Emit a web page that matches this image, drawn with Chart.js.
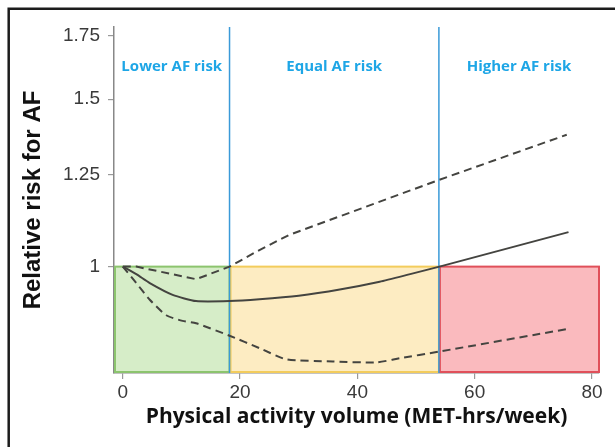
<!DOCTYPE html>
<html>
<head>
<meta charset="utf-8">
<script src="https://cdn.jsdelivr.net/npm/chart.js@4.4.1/dist/chart.umd.min.js"></script>
<style>
  html, body { margin: 0; padding: 0; background: #ffffff; }
  #wrap { width: 615px; height: 447px; position: relative; }
</style>
</head>
<body>
<div id="wrap"><canvas id="c" width="615" height="447"></canvas></div>
<script>
// ---- data ----
const xSolid  = [0, 2.3, 4.6, 8.5, 12.5, 18.2, 23.3, 30, 37, 43.8, 49, 54, 76];
const rrSolid = [1, 0.982, 0.961, 0.934, 0.920, 0.920, 0.924, 0.932, 0.946, 0.964, 0.982, 1.0, 1.087];

const xUpper  = [0, 2.3, 12.5, 18.2, 23.3, 28.4, 54, 75.7];
const rrUpper = [1, 1.0, 0.970, 1.0, 1.041, 1.08, 1.234, 1.376];

const xLower  = [0, 2.3, 4.6, 7.4, 10.2, 12.5, 18.2, 23.3, 27.9, 35.8, 43.2, 47.2, 53.9, 75.9];
const rrLower = [1, 0.961, 0.923, 0.889, 0.877, 0.872, 0.846, 0.821, 0.799, 0.795, 0.793, 0.801, 0.814, 0.860];

const zoneEdges  = [-1.5, 18.2, 53.9, 81.2];   // MET-hrs/week
const zoneTop    = 1;                          // relative risk
const zoneLabels = ["Lower AF risk", "Equal AF risk", "Higher AF risk"];
const dividers   = [18.2, 53.9];

const xTicks = [0, 20, 40, 60, 80];
const yTicks = [1, 1.25, 1.5, 1.75];
const xRange = [-1.5, 81.2];
const yRange = [0.773, 1.786];

const xTitle = "Physical activity volume (MET-hrs/week)";
const yTitle = "Relative risk for AF";

// ---- styles ----
const zoneFill   = ["rgba(214,237,200,1)", "rgba(253,236,194,1)", "rgba(250,186,190,1)"];
const zoneStroke = ["#8cc46e", "#f3cc5c", "#e0505a"];
const lineColor  = "#444440";
const blue       = "#3a9ad8";
const labelBlue  = "#1ea6e6";

const pts = (xs, ys) => xs.map((x, i) => ({ x: x, y: ys[i] }));

const zonePlugin = {
  id: "zones",
  beforeDatasetsDraw(chart) {
    const { ctx, scales: { x, y }, chartArea } = chart;
    ctx.save();
    const yTop = y.getPixelForValue(zoneTop);
    const yBot = y.getPixelForValue(yRange[0]);
    for (let i = 0; i < zoneLabels.length; i++) {
      const x0 = x.getPixelForValue(zoneEdges[i]);
      const x1 = x.getPixelForValue(zoneEdges[i + 1]);
      ctx.fillStyle = zoneFill[i];
      ctx.fillRect(x0, yTop, x1 - x0, yBot - yTop);
    }
    for (let i = 0; i < zoneLabels.length; i++) {
      const x0 = x.getPixelForValue(zoneEdges[i]);
      const x1 = x.getPixelForValue(zoneEdges[i + 1]);
      ctx.strokeStyle = zoneStroke[i];
      ctx.lineWidth = 2;
      ctx.strokeRect(x0 + 1, yTop, x1 - x0 - 1, yBot - yTop - 1);
    }
    // divider lines
    ctx.strokeStyle = blue;
    ctx.lineWidth = 1.5;
    dividers.forEach(d => {
      const px = x.getPixelForValue(d);
      ctx.beginPath();
      ctx.moveTo(px, chartArea.top);
      ctx.lineTo(px, chartArea.bottom);
      ctx.stroke();
    });
    // zone labels
    ctx.fillStyle = labelBlue;
    ctx.font = "bold 15px 'Open Sans'";
    ctx.textAlign = "center";
    ctx.textBaseline = "alphabetic";
    const labelY = y.getPixelForValue(yRange[1]) + 44;
    for (let i = 0; i < zoneLabels.length; i++) {
      const x0 = x.getPixelForValue(zoneEdges[i]);
      const x1 = x.getPixelForValue(zoneEdges[i + 1]);
      ctx.fillText(zoneLabels[i], (x0 + x1) / 2, labelY);
    }
    ctx.restore();
  }
};

const framePlugin = {
  id: "frame",
  afterDraw(chart) {
    const { ctx } = chart;
    ctx.save();
    ctx.strokeStyle = "#1c1c1c";
    ctx.lineWidth = 2.5;
    ctx.beginPath();
    ctx.moveTo(615, 8.7);
    ctx.lineTo(8.7, 8.7);
    ctx.lineTo(8.7, 447);
    ctx.stroke();
    ctx.restore();
  }
};

new Chart(document.getElementById("c"), {
  type: "line",
  data: {
    datasets: [
      { label: "RR", data: pts(xSolid, rrSolid), borderColor: lineColor, borderWidth: 2, pointRadius: 0, tension: 0.2 },
      { label: "Upper CI", data: pts(xUpper, rrUpper), borderColor: lineColor, borderWidth: 2, borderDash: [8, 5], pointRadius: 0, tension: 0 },
      { label: "Lower CI", data: pts(xLower, rrLower), borderColor: lineColor, borderWidth: 2, borderDash: [8, 5], pointRadius: 0, tension: 0.2 }
    ]
  },
  options: {
    responsive: false,
    animation: false,
    devicePixelRatio: 1,
    layout: { padding: { top: 27, right: 16, left: 0, bottom: 0 } },
    plugins: { legend: { display: false }, tooltip: { enabled: false } },
    scales: {
      x: {
        type: "linear",
        min: xRange[0], max: xRange[1],
        afterFit: s => { s.height = 74; },
        afterBuildTicks: s => { s.ticks = xTicks.map(v => ({ value: v })); },
        grid: { drawOnChartArea: false, drawTicks: true, tickLength: 6, color: "#999", lineWidth: 1.2 },
        border: { display: true, color: "#888", width: 1.5 },
        ticks: { color: "#3a3a3a", font: { family: "'Liberation Sans', Arial", size: 19 }, padding: 2, maxRotation: 0, autoSkip: false },
        title: { display: true, text: xTitle, color: "#111", font: { family: "'Open Sans'", size: 21, weight: "bold" }, padding: { top: 0, bottom: 17 } }
      },
      y: {
        type: "logarithmic",
        min: yRange[0], max: yRange[1],
        afterFit: s => { s.width = 114; },
        afterBuildTicks: s => { s.ticks = yTicks.map(v => ({ value: v })); },
        grid: { drawOnChartArea: false, drawTicks: true, tickLength: 6, color: "#999", lineWidth: 1.2 },
        border: { display: true, color: "#888", width: 1.5 },
        ticks: { color: "#3a3a3a", font: { family: "'Liberation Sans', Arial", size: 19 }, padding: 8, callback: v => String(v), autoSkip: false },
        title: { display: true, text: yTitle, color: "#111", font: { family: "'Liberation Sans', Arial", size: 24, weight: "bold" }, padding: { top: 19, bottom: 0 } }
      }
    }
  },
  plugins: [zonePlugin, framePlugin]
});
</script>
</body>
</html>
